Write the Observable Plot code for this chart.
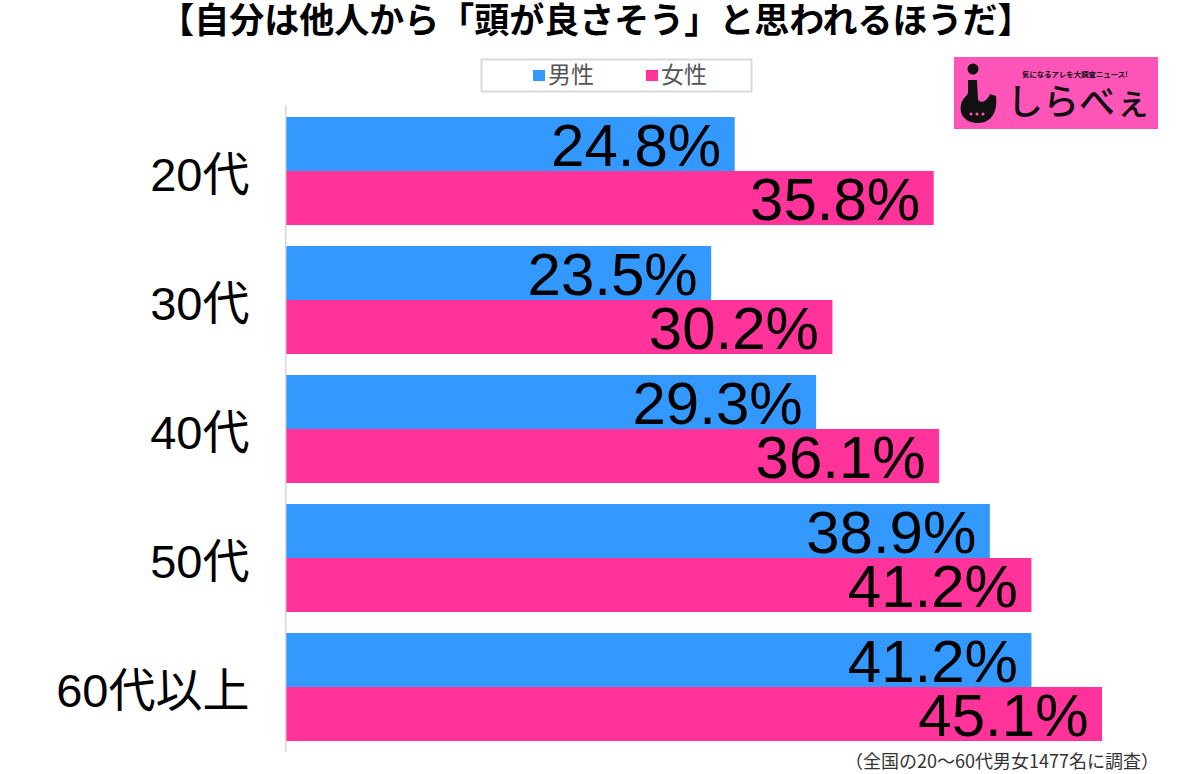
<!DOCTYPE html>
<html>
<head>
<meta charset="utf-8">
<script src="https://cdn.jsdelivr.net/npm/d3@7"></script>
<script src="https://cdn.jsdelivr.net/npm/@observablehq/plot@0.6"></script>
<style>
  html, body { margin: 0; padding: 0; background: #fff; }
  #wrap { position: relative; width: 1200px; height: 774px; overflow: hidden; }
  #wrap > svg { position: absolute; left: 0; top: 0; }
  #chart svg { font-family: "Liberation Sans", "Noto Sans CJK JP", sans-serif; }
</style>
</head>
<body>
<div id="wrap">
  <div id="chart"></div>
  <svg id="overlay" width="1200" height="774" style="pointer-events:none">
    <text x="596" y="33" text-anchor="middle" font-family="'Noto Sans CJK JP', sans-serif" font-weight="700" font-size="35" fill="#000">【自分は他人から「頭が良さそう」と思われるほうだ】</text>
    <rect x="481.5" y="59.5" width="270" height="32" fill="#fff" stroke="#d9d9d9" stroke-width="2"></rect>
    <g id="legend"></g>
    <text x="1159" y="768" text-anchor="end" font-family="'Noto Sans CJK JP', sans-serif" font-size="18" fill="#333">（全国の20～60代男女1477名に調査）</text>
    <g id="logo">
      <rect x="954" y="57" width="204" height="72" fill="#ff55b8"></rect>
      <circle cx="973" cy="69" r="5.5" fill="#111"></circle>
      <path d="M968,80 L977,80 L978,100 C982,104 987,101 990,94 L996,96 C998,112 991,123 978,123 C965,123 959,114 961,105 C962,99 966,97 968,93 Z" fill="#111"></path>
      <circle cx="971" cy="114" r="1.5" fill="#ff55b8"></circle>
      <circle cx="977" cy="114" r="1.5" fill="#ff55b8"></circle>
      <circle cx="983" cy="114" r="1.5" fill="#ff55b8"></circle>
      <text x="1022" y="77" font-family="'Noto Sans CJK JP', sans-serif" font-weight="700" font-size="7.4" fill="#111">気になるアレを大調査ニュース!</text>
      <text x="1007" y="115" font-family="'Noto Sans CJK JP', sans-serif" font-weight="500" font-size="36" fill="#111">しらべぇ</text>
    </g>
  </svg>
</div>
<script>
const ages = ["20代", "30代", "40代", "50代", "60代以上"];
const maleValues = [24.8, 23.5, 29.3, 38.9, 41.2];
const femaleValues = [35.8, 30.2, 36.1, 41.2, 45.1];
const seriesNames = ["男性", "女性"];
const seriesColors = ["#3399ff", "#ff3399"];

const maleData = ages.map((a, i) => ({age: a, sex: seriesNames[0], v: maleValues[i]}));
const femaleData = ages.map((a, i) => ({age: a, sex: seriesNames[1], v: femaleValues[i]}));
const fmt = d => d.v.toFixed(1) + "%";

const chart = Plot.plot({
  width: 1200,
  height: 774,
  marginLeft: 286,
  marginRight: 98,
  marginTop: 105,
  marginBottom: 22,
  x: {domain: [0, 45.1], range: [286, 1102], axis: null},
  y: {domain: ages, paddingInner: 0.166, paddingOuter: 0.081, label: null, axis: null},
  color: {domain: seriesNames, range: seriesColors},
  marks: [
    Plot.barX(maleData, {x: "v", y: "age", fill: "sex", insetBottom: 54}),
    Plot.barX(femaleData, {x: "v", y: "age", fill: "sex", insetTop: 54}),
    Plot.ruleX([0], {stroke: "#d6d6d6", strokeWidth: 1.5, dx: -0.8}),
    Plot.text(maleData, {x: "v", y: "age", text: fmt, textAnchor: "end", dx: -14, dy: -25, fontSize: 60, fill: "#000"}),
    Plot.text(femaleData, {x: "v", y: "age", text: fmt, textAnchor: "end", dx: -14, dy: 29, fontSize: 60, fill: "#000"}),
    Plot.axisY({tickSize: 0, tickPadding: 37, fontSize: 47, fill: "#000", dy: 4, label: null})
  ]
});
document.getElementById("chart").appendChild(chart);

// legend drawn from the series arrays
const lg = d3.select("#legend");
const legendX = [533, 646];
seriesNames.forEach((name, i) => {
  lg.append("rect").attr("x", legendX[i]).attr("y", 70).attr("width", 12).attr("height", 11).attr("fill", seriesColors[i]);
  lg.append("text").attr("x", legendX[i] + 15).attr("y", 83)
    .attr("font-family", "'Noto Sans CJK JP', sans-serif").attr("font-size", 23).attr("fill", "#555")
    .text(name);
});
</script>
</body>
</html>
